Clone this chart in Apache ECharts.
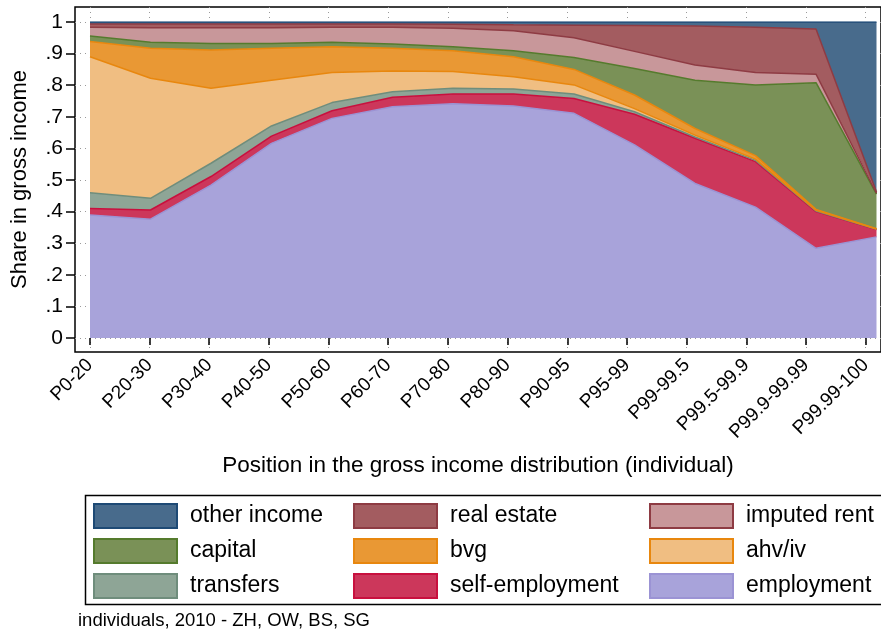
<!DOCTYPE html>
<html>
<head>
<meta charset="utf-8">
<title>Share in gross income</title>
<script src="https://cdn.jsdelivr.net/npm/echarts@6/dist/echarts.min.js"></script>
<style>
  html, body { margin: 0; padding: 0; background: #fff; }
  #chart { width: 881px; height: 634px; }
</style>
</head>
<body>
<div id="chart"></div>
<script>
// categories on the x axis
const categories = ['P0-20', 'P20-30', 'P30-40', 'P40-50', 'P50-60', 'P60-70', 'P70-80', 'P80-90',
  'P90-95', 'P95-99', 'P99-99.5', 'P99.5-99.9', 'P99.9-99.99', 'P99.99-100'];

// shares of gross income per component (stacked bottom to top)
const employment     = [0.389, 0.376, 0.484, 0.616, 0.695, 0.732, 0.741, 0.734, 0.711, 0.611, 0.489, 0.414, 0.284, 0.320];
const selfEmployment = [0.021, 0.029, 0.027, 0.023, 0.024, 0.030, 0.031, 0.038, 0.047, 0.097, 0.143, 0.144, 0.116, 0.023];
const transfers      = [0.050, 0.037, 0.042, 0.032, 0.026, 0.017, 0.018, 0.016, 0.014, 0.008, 0.004, 0.004, 0.002, 0.001];
const ahvIv          = [0.430, 0.380, 0.237, 0.145, 0.095, 0.066, 0.053, 0.039, 0.029, 0.010, 0.006, 0.004, 0.002, 0.001];
const bvg            = [0.048, 0.095, 0.121, 0.101, 0.082, 0.072, 0.066, 0.063, 0.049, 0.043, 0.021, 0.011, 0.003, 0.001];
const capital        = [0.018, 0.019, 0.021, 0.015, 0.014, 0.013, 0.013, 0.019, 0.038, 0.084, 0.153, 0.224, 0.401, 0.109];
const imputedRent    = [0.027, 0.046, 0.050, 0.050, 0.047, 0.053, 0.058, 0.063, 0.062, 0.054, 0.048, 0.039, 0.027, 0.003];
const realEstate     = [0.011, 0.012, 0.012, 0.012, 0.011, 0.011, 0.013, 0.019, 0.040, 0.082, 0.123, 0.143, 0.143, 0.004];
const otherIncome    = [0.006, 0.006, 0.006, 0.006, 0.006, 0.006, 0.007, 0.009, 0.010, 0.011, 0.013, 0.017, 0.022, 0.538];

const yTicks = [0, 0.1, 0.2, 0.3, 0.4, 0.5, 0.6, 0.7, 0.8, 0.9, 1];
const xTicks = categories.map((c, i) => i + 1);

const FONT = "'Liberation Sans', Arial, sans-serif";

// fill / outline per component
const styles = {
  'employment':      { fill: '#a8a3da', line: '#9b93d4' },
  'self-employment': { fill: '#cc375b', line: '#c8103e' },
  'transfers':       { fill: '#8ea596', line: '#6f8d7c' },
  'ahv/iv':          { fill: '#f0be82', line: '#e8870e' },
  'bvg':             { fill: '#e99834', line: '#e8870e' },
  'capital':         { fill: '#7a9157', line: '#557b2d' },
  'imputed rent':    { fill: '#c8979a', line: '#8e3b43' },
  'real estate':     { fill: '#a35c60', line: '#8e3b43' },
  'other income':    { fill: '#486b8c', line: '#1e4a75' }
};

const seriesDefs = [
  ['employment', employment],
  ['self-employment', selfEmployment],
  ['transfers', transfers],
  ['ahv/iv', ahvIv],
  ['bvg', bvg],
  ['capital', capital],
  ['imputed rent', imputedRent],
  ['real estate', realEstate],
  ['other income', otherIncome]
];

// areas live on the inner grid (category axis, no padding), the frame + ticks on the outer one
let seriesData = seriesDefs.map(([name, vals]) => ({
  name: name,
  type: 'line',
  xAxisIndex: 1,
  yAxisIndex: 1,
  stack: 'total',
  symbol: 'none',
  smooth: false,
  data: vals,
  itemStyle: { color: styles[name].fill },
  lineStyle: { color: styles[name].line, width: 1.5 },
  areaStyle: { color: styles[name].fill, opacity: 1 }
}));

function legendItems(names) {
  return names.map(n => ({
    name: n,
    icon: 'rect',
    itemStyle: { color: styles[n].fill, borderColor: styles[n].line, borderWidth: 2 }
  }));
}

function legendCol(left, names) {
  return {
    orient: 'vertical',
    left: left,
    top: 503,
    padding: 0,
    itemWidth: 83,
    itemHeight: 24,
    itemGap: 9,
    selectedMode: false,
    data: legendItems(names),
    textStyle: { fontFamily: FONT, fontSize: 23, color: '#000', padding: [0, 0, 0, 8] }
  };
}

function yLabel(v) {
  let r = Math.round(v * 10) / 10;
  if (r === 0) return '0';
  if (r === 1) return '1';
  return r.toFixed(1).replace(/^0/, '');
}

const gridLine = { show: true, lineStyle: { color: '#9a9a9a', width: 1, type: [1, 4] } };

const chart = echarts.init(document.getElementById('chart'), null, { renderer: 'canvas' });

let option = {
  animation: false,
  backgroundColor: '#fff',
  title: {
    text: 'individuals, 2010 - ZH, OW, BS, SG',
    left: 78,
    top: 611,
    padding: 0,
    textStyle: { fontFamily: FONT, fontSize: 18.5, fontWeight: 'normal', color: '#000' }
  },
  grid: [
    {
      // plot frame, 1 -> y 22, 0 -> y 338, P0-20 -> x 90, P99.99-100 -> x 876.5
      left: 75,
      right: -11,
      top: 7,
      bottom: 282,
      show: true,
      backgroundColor: '#fff',
      borderColor: '#000',
      borderWidth: 1.5
    },
    {
      left: 90,
      right: 4.5,
      top: 22,
      bottom: 296
    }
  ],
  legend: [
    legendCol(93, ['other income', 'capital', 'transfers']),
    legendCol(353, ['real estate', 'bvg', 'self-employment']),
    legendCol(649, ['imputed rent', 'ahv/iv', 'employment'])
  ],
  xAxis: [
    {
      gridIndex: 0,
      type: 'value',
      min: 0.752,
      max: 14.256,
      name: 'Position in the gross income distribution (individual)',
      nameLocation: 'middle',
      nameGap: 102,
      nameTextStyle: { fontFamily: FONT, fontSize: 22.5, color: '#000' },
      axisLine: { show: false },
      axisTick: { show: true, length: 7, customValues: xTicks, lineStyle: { color: '#000', width: 1.5 } },
      axisLabel: {
        customValues: xTicks,
        rotate: 45,
        margin: 10,
        fontFamily: FONT,
        fontSize: 19,
        color: '#000',
        formatter: v => categories[Math.round(v) - 1] || ''
      },
      splitLine: gridLine
    },
    {
      gridIndex: 1,
      type: 'category',
      boundaryGap: false,
      data: categories,
      show: false
    }
  ],
  yAxis: [
    {
      gridIndex: 0,
      type: 'value',
      min: -0.0443,
      max: 1.0475,
      name: 'Share in gross income',
      nameLocation: 'middle',
      nameGap: 44,
      nameTextStyle: { fontFamily: FONT, fontSize: 22, color: '#000' },
      axisLine: { show: false },
      axisTick: { show: true, length: 9, customValues: yTicks, lineStyle: { color: '#000', width: 1.5 } },
      axisLabel: {
        customValues: yTicks,
        margin: 12,
        fontFamily: FONT,
        fontSize: 21,
        color: '#000',
        formatter: yLabel
      },
      splitLine: gridLine
    },
    {
      gridIndex: 1,
      type: 'value',
      min: 0,
      max: 1,
      show: false,
      splitLine: { show: false }
    }
  ],
  graphic: [
    {
      type: 'rect',
      left: 83,
      top: 493,
      shape: { width: 830, height: 109 },
      style: { fill: 'none', stroke: '#000', lineWidth: 1.5 },
      silent: true
    }
  ],
  series: seriesData
};

chart.setOption(option);
</script>
</body>
</html>
